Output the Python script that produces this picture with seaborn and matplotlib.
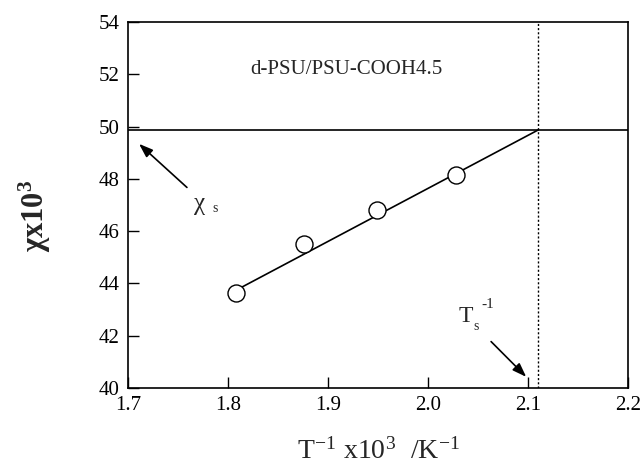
import matplotlib
matplotlib.use("Agg")
import matplotlib.pyplot as plt
import seaborn as sns
import pandas as pd

sns.set_theme(style="ticks")
plt.rcParams['font.family'] = ['Liberation Serif', 'DejaVu Serif']
plt.rcParams['mathtext.fontset'] = 'stix'

inv_T = [1.808, 1.876, 1.949, 2.028]
chi = [43.62, 45.50, 46.80, 48.15]
fit_x = [1.81, 2.11]
fit_y = [43.78, 49.87]
chi_s = 49.87
inv_Ts = 2.11
x_ticks = [1.7, 1.8, 1.9, 2.0, 2.1, 2.2]
y_ticks = [40, 42, 44, 46, 48, 50, 52, 54]

df_pts = pd.DataFrame({"x": inv_T, "y": chi})
df_fit = pd.DataFrame({"x": fit_x, "y": fit_y})

fig = plt.figure(figsize=(6.43, 4.68), dpi=100)
ax = fig.add_axes([0.199, 0.171, 0.778, 0.782])

sns.lineplot(data=df_fit, x="x", y="y", ax=ax, color="black", lw=1.2, zorder=2)
sns.scatterplot(data=df_pts, x="x", y="y", ax=ax, s=150, marker="o",
                facecolor="white", edgecolor="black", linewidth=1.0, zorder=3)
ax.axhline(chi_s, color="black", lw=1.2, zorder=1)
ax.axvline(inv_Ts, color="black", lw=1.0, ls=(0, (1.5, 1.5)), zorder=1)

ax.set_xlim(1.7, 2.2)
ax.set_ylim(40, 54)
ax.set_xticks(x_ticks)
ax.set_xticklabels([f"{v:.1f}" for v in x_ticks])
ax.set_yticks(y_ticks)
ax.set_yticklabels([str(v) for v in y_ticks])
ax.tick_params(direction="in", length=8, width=1.0, labelsize=15, colors="black",
               top=False, right=False, pad=6)
for sp in ax.spines.values():
    sp.set_linewidth(1.2)
    sp.set_color("black")

ax.set_xlabel(r"T$^{\mathregular{ -1}}$ x10$^{\mathregular{ 3}}$  /K$^{\mathregular{ -1}}$", fontsize=20)
ax.xaxis.set_label_coords(0.5, -0.135)
ax.set_ylabel(r"$\mathregular{\chi}$x10$^{\mathregular{ 3}}$", fontsize=22, fontweight="bold")
ax.yaxis.set_label_coords(-0.15, 0.47)

ax.text(1.918, 52.17, "d-PSU/PSU-COOH4.5", fontsize=15, ha="center", va="center")

ax.annotate("", xy=(1.709, 49.41), xytext=(1.761, 47.6),
            arrowprops=dict(arrowstyle="-|>,head_length=0.7,head_width=0.25", color="black", lw=1.2))
ax.text(1.765, 46.95, r"$\mathregular{\chi}$", fontsize=18, ha="left", va="center")
ax.text(1.784, 46.85, "s", fontsize=10, ha="left", va="center")

ax.annotate("", xy=(2.1, 40.35), xytext=(2.061, 41.85),
            arrowprops=dict(arrowstyle="-|>,head_length=0.7,head_width=0.25", color="black", lw=1.2))
ax.text(2.038, 42.75, "T", fontsize=17, ha="center", va="center")
ax.text(2.048, 42.35, "s", fontsize=10, ha="center", va="center")
ax.text(2.060, 43.2, "-1", fontsize=11, ha="center", va="center")

fig.savefig("out.png", dpi=100)
